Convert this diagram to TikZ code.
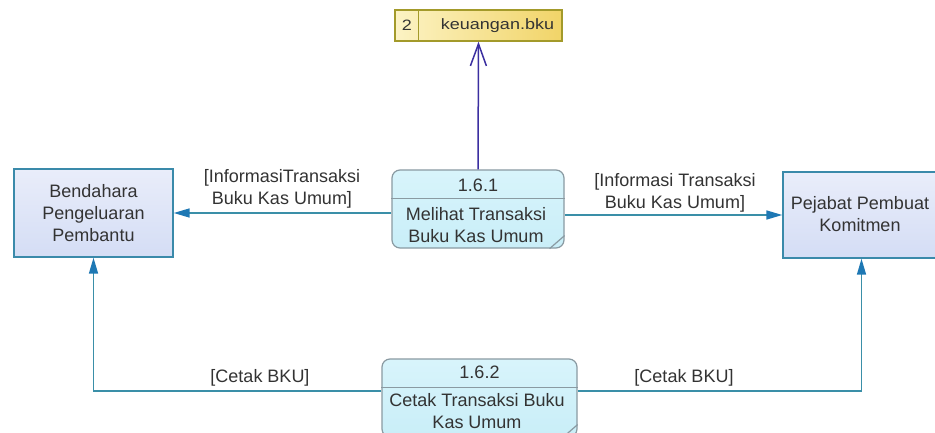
\documentclass[tikz,border=0pt]{standalone}
\usepackage{fontspec}
\setmainfont{Liberation Sans}
\newfontfamily\dsfont[FakeStretch=1.2]{Liberation Sans}
\usetikzlibrary{arrows.meta}
\definecolor{lineteal}{HTML}{3A8FA8}
\definecolor{tipblue}{HTML}{1E78B4}
\definecolor{entborder}{HTML}{3A8AAA}
\definecolor{enttop}{HTML}{E9EDFA}
\definecolor{entbot}{HTML}{D4DDF5}
\definecolor{procfill}{HTML}{D8F4FB}
\definecolor{procfill2}{HTML}{C9EEF8}
\definecolor{procborder}{HTML}{8A9AA2}
\definecolor{dsleft}{HTML}{FCF3C4}
\definecolor{dsright}{HTML}{F1D468}
\definecolor{dsborder}{HTML}{A39A2A}
\definecolor{navyarrow}{HTML}{3B2FA0}
\definecolor{txt}{HTML}{333333}
\tikzset{
  entity/.style={draw=entborder, line width=1.4pt, top color=enttop, bottom color=entbot,
    minimum width=159pt, minimum height=88pt, align=center, text=txt, inner sep=0pt},
  proc/.style={draw=procborder, line width=1.2pt, top color=procfill, bottom color=procfill2,
    rounded corners=8pt, minimum height=78pt, inner sep=0pt},
  procdiv/.style={draw=procborder, line width=1.2pt},
  ptext/.style={align=center, text=txt, inner sep=0pt},
  lbl/.style={align=center, text=txt, inner sep=0pt},
  dstore/.style={draw=dsborder, line width=1.4pt, left color=dsleft, right color=dsright,
    minimum width=167pt, minimum height=31pt, inner sep=0pt},
  flow/.style={draw=lineteal, line width=1.6pt,
    -{Triangle[length=16pt,width=9pt,color=tipblue,fill=tipblue]}},
  dsflow/.style={draw=navyarrow, line width=1.5pt,
    -{Straight Barb[length=22pt,width=16pt,line width=1.5pt]}}
}
\begin{document}
\begin{tikzpicture}[x=1pt,y=-1pt,font=\fontsize{18}{22}\selectfont]
\useasboundingbox (0,0) rectangle (935,433);
\fill[white] (0,0) rectangle (935,433);

% data store
\node[dstore] (ds) at (478.5,25.5) {};
\draw[draw=dsborder, line width=1.4pt] ([xshift=24pt]ds.north west) -- ([xshift=24pt]ds.south west);
\node[text=txt, font=\dsfont\fontsize{15}{16}\selectfont] (dsn) at (407,25.5) {2};
\node[text=txt, font=\dsfont\fontsize{15}{16}\selectfont] (dst) at (497.5,25.5) {keuangan.bku};

% entities
\node[entity] (bend) at (93.5,213) {Bendahara\\Pengeluaran\\Pembantu};
\node[entity, minimum width=157pt, minimum height=86pt] (pej) at (861.5,215) {};
\node[ptext] (pejt) at (860,214) {Pejabat Pembuat\\Komitmen};

% process 1.6.1
\node[proc, minimum width=172pt] (p1) at (478,209) {};
\draw[procdiv] ([yshift=-29pt]p1.north west) -- ([yshift=-29pt]p1.north east);
\draw[procdiv] ([xshift=-15pt]p1.south east) -- ([yshift=13pt]p1.south east);
\node[ptext] (p1n) at (478,185) {1.6.1};
\node[ptext] (p1t) at (476,225) {Melihat Transaksi\\Buku Kas Umum};

% process 1.6.2
\node[proc, minimum width=195pt] (p2) at (479.5,398) {};
\draw[procdiv] ([yshift=-29pt]p2.north west) -- ([yshift=-29pt]p2.north east);
\draw[procdiv] ([xshift=-15pt]p2.south east) -- ([yshift=13pt]p2.south east);
\node[ptext] (p2n) at (479.5,372) {1.6.2};
\node[ptext] (p2t) at (477,411) {Cetak Transaksi Buku\\Kas Umum};

% flows
\draw[dsflow] (p1.north) -- (ds.south);
\draw[flow] (p1.west |- bend.east) -- (bend.east);
\draw[flow] (p1.east |- pej.west) -- (pej.west);
\draw[flow] ([yshift=7pt]p2.west) -| (bend.south);
\draw[flow] ([yshift=7pt]p2.east) -| (pej.south);

% labels
\node[lbl] (l1) at (282,189) {[InformasiTransaksi\\Buku Kas Umum]};
\node[lbl] (l2) at (675,192.5) {[Informasi Transaksi\\Buku Kas Umum]};
\node[lbl] (l3) at (260,378) {[Cetak BKU]};
\node[lbl] (l4) at (684,378) {[Cetak BKU]};
\end{tikzpicture}
\end{document}
